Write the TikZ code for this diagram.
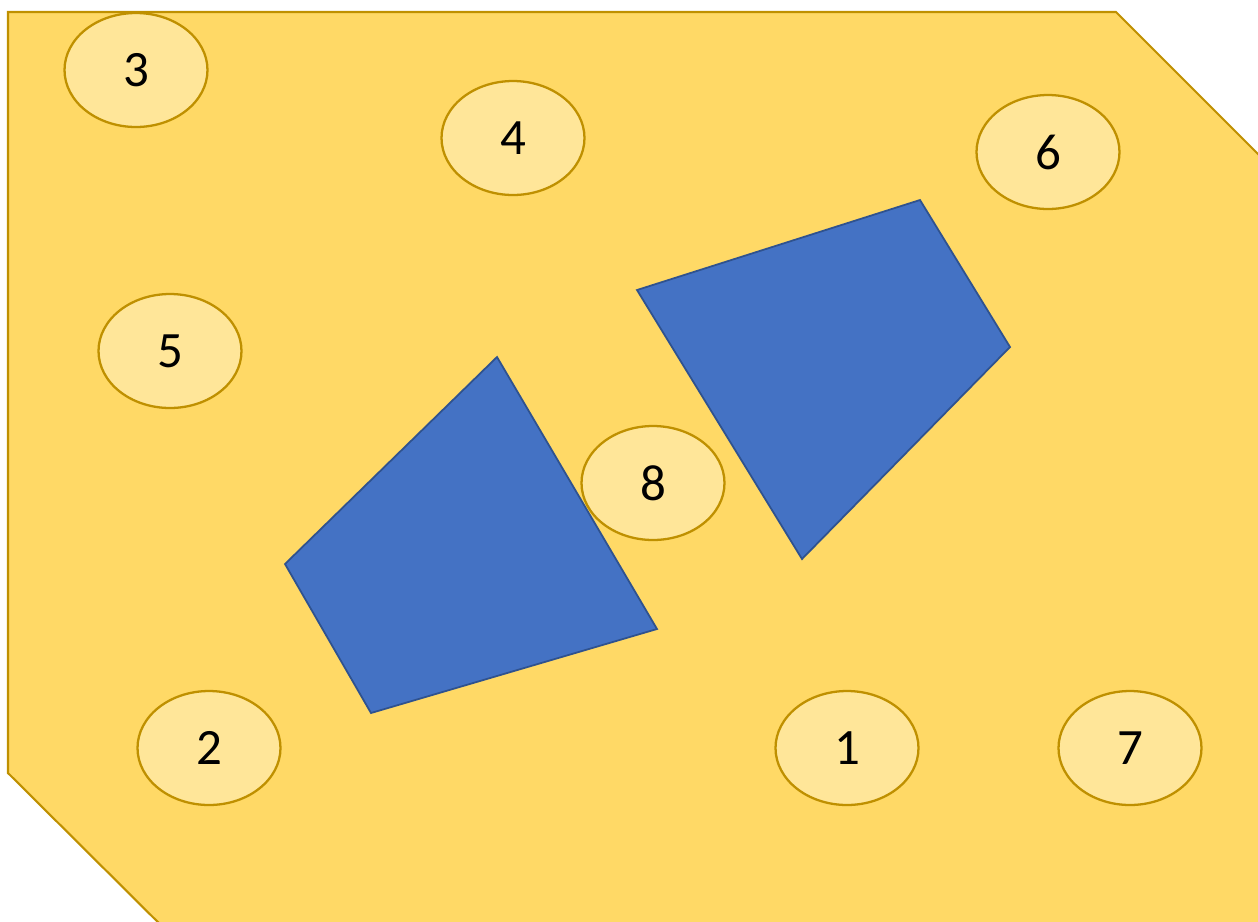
\documentclass[tikz,border=0pt]{standalone}
\usepackage{fontspec}
\setmainfont{Carlito}
\usepackage{tikz}
\usetikzlibrary{shapes.geometric}
\definecolor{cGold}{HTML}{FFD966}
\definecolor{cGoldLt}{HTML}{FFE699}
\definecolor{cGoldLine}{HTML}{BF9000}
\definecolor{cBlue}{HTML}{4472C4}
\definecolor{cBlueLine}{HTML}{2F528F}
\tikzset{
	site/.style    ={ellipse, draw=cGoldLine, line width=1.3pt, fill=cGoldLt, minimum width=2.86cm, minimum height=2.28cm, inner sep=0pt, font=\fontsize{29}{34}\selectfont},
	area/.style    ={draw=cGoldLine, line width=1.2pt, fill=cGold},
	obstacle/.style={draw=cBlueLine, line width=1pt, fill=cBlue, line join=miter},
}
\begin{document}
\begin{tikzpicture}[x=0.02cm, y=-0.02cm]
	\useasboundingbox (0,0) rectangle (1258,921);
	\clip (0,0) rectangle (1258,921);
	% floor area
	\draw[area] (8,12) -- (1116,12) -- (1290,186) -- (1290,960) -- (196,960) -- (8,773) -- cycle;
	% obstacles
	\draw[obstacle] (497,357) -- (657,629) -- (371,713) -- (285,564) -- cycle;
	\draw[obstacle] (637,290) -- (920,200) -- (1010,347) -- (802,559) -- cycle;
	% numbered sites
	\node[site] (s1) at (847,748) {1};
	\node[site] (s2) at (209,748) {2};
	\node[site] (s3) at (136,70) {3};
	\node[site] (s4) at (513,138) {4};
	\node[site] (s5) at (170,351) {5};
	\node[site] (s6) at (1048,152) {6};
	\node[site] (s7) at (1130,748) {7};
	\node[site] (s8) at (653,483) {8};
\end{tikzpicture}
\end{document}
